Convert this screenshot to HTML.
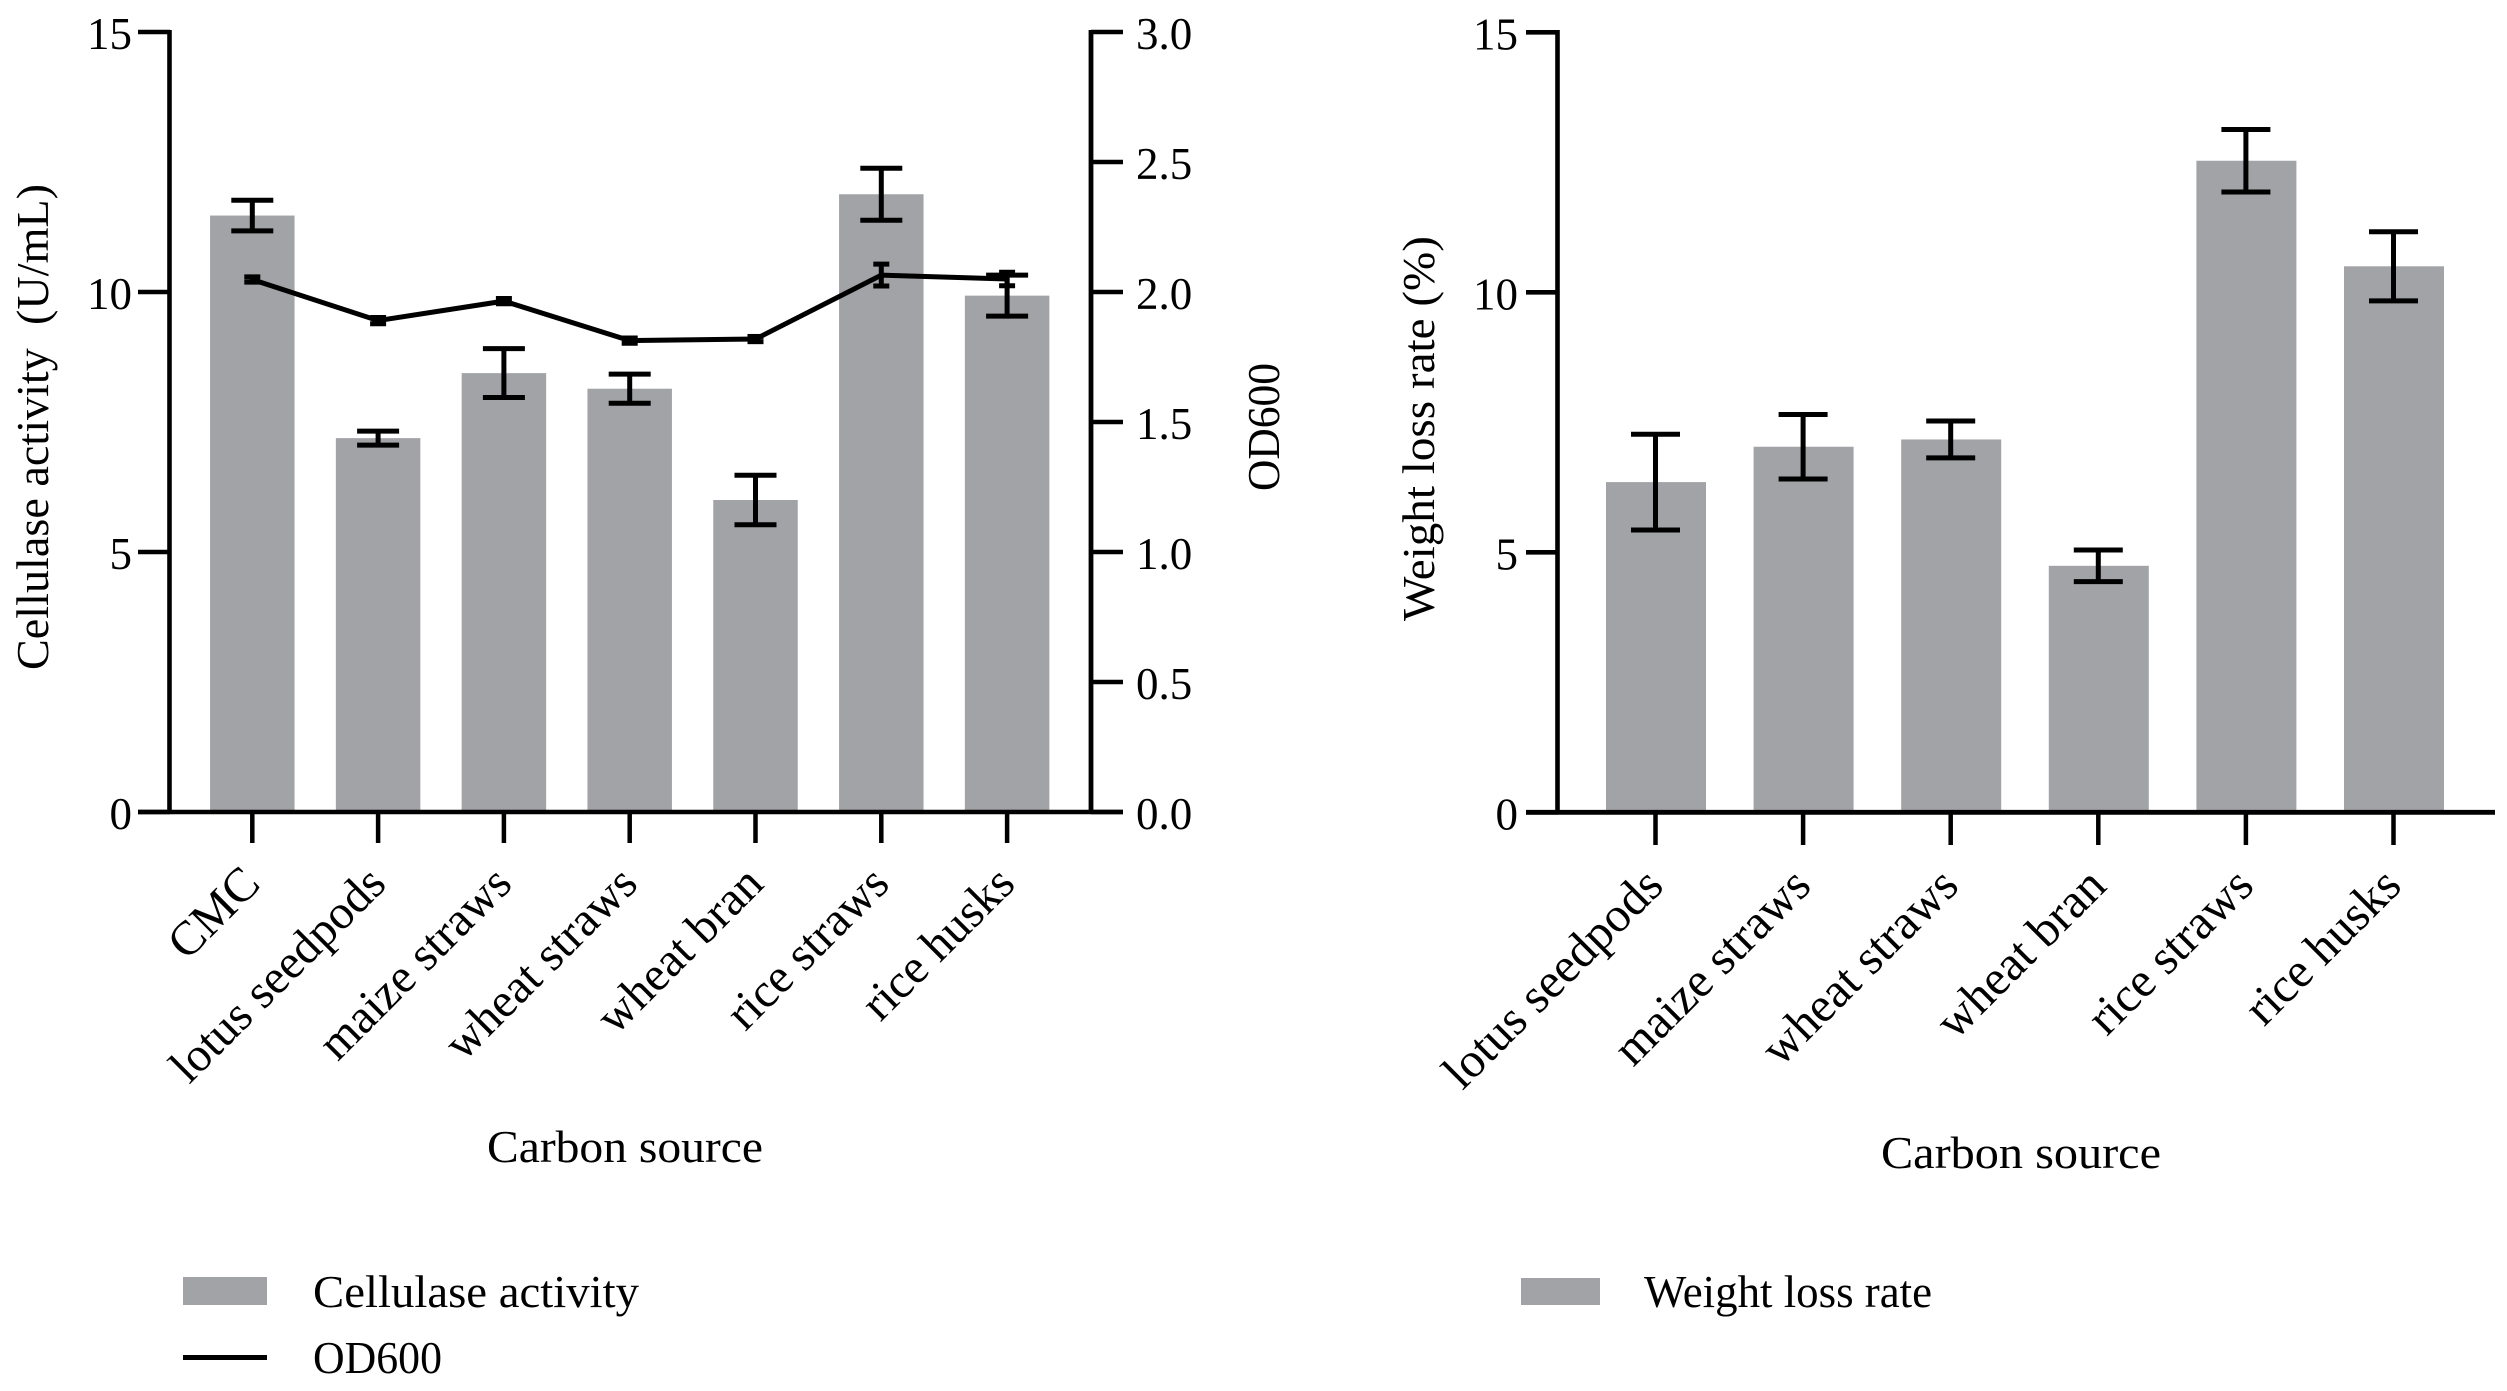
<!DOCTYPE html>
<html lang="en">
<head>
<meta charset="utf-8">
<title>Cellulase activity and weight loss rate by carbon source</title>
<style>
html,body{margin:0;padding:0;background:#fff;}
svg{display:block;}
text{font-family:"Liberation Serif","Times New Roman",serif;fill:#000;white-space:pre;}
</style>
</head>
<body>
<svg id="figure" xmlns="http://www.w3.org/2000/svg" width="2507" height="1391" viewBox="0 0 2507 1391">
  <rect x="0" y="0" width="2507" height="1391" fill="#fff"/>
  <g id="left-chart"></g>
  <g id="right-chart"></g>

  <text transform="translate(48,670) rotate(-90)" font-size="46" textLength="486" lengthAdjust="spacingAndGlyphs">Cellulase activity  (U/mL)</text>
  <text transform="translate(1279,491) rotate(-90)" font-size="46" textLength="128" lengthAdjust="spacingAndGlyphs">OD600</text>
  <text x="487" y="1162" font-size="46" textLength="276" lengthAdjust="spacingAndGlyphs">Carbon source</text>

  <rect x="183" y="1277" width="84" height="28" fill="#a2a3a7"/>
  <text x="313" y="1307" font-size="46" textLength="326" lengthAdjust="spacingAndGlyphs">Cellulase activity</text>
  <rect x="183" y="1355" width="84" height="5" fill="#000"/>
  <text x="313" y="1373" font-size="46" textLength="129" lengthAdjust="spacingAndGlyphs">OD600</text>

  <text transform="translate(1434,621) rotate(-90)" font-size="46" textLength="385" lengthAdjust="spacingAndGlyphs">Weight loss rate (%)</text>
  <text x="1881" y="1168" font-size="46" textLength="280" lengthAdjust="spacingAndGlyphs">Carbon source</text>
  <rect x="1521" y="1278" width="79" height="27" fill="#a2a3a7"/>
  <text x="1644" y="1307" font-size="46" textLength="288" lengthAdjust="spacingAndGlyphs">Weight loss rate</text>
</svg>
<script>
const cellulaseCategories = ["CMC", "lotus seedpods", "maize straws", "wheat straws", "wheat bran", "rice straws", "rice husks"];
const cellulaseValues = [11.47, 7.19, 8.44, 8.14, 6.0, 11.88, 9.93];
const cellulaseErrors = [0.295, 0.135, 0.47, 0.28, 0.475, 0.5, 0.395];
const od600Values = [2.048, 1.89, 1.965, 1.813, 1.819, 2.065, 2.05];
const od600Errors = [0.01, 0.012, 0.01, 0.01, 0.01, 0.042, 0.026];
const cellulaseTicks = [0, 5, 10, 15];
const od600Ticks = ["0.0", "0.5", "1.0", "1.5", "2.0", "2.5", "3.0"];

const weightCategories = ["lotus seedpods", "maize straws", "wheat straws", "wheat bran", "rice straws", "rice husks"];
const weightValues = [6.35, 7.03, 7.17, 4.74, 12.53, 10.5];
const weightErrors = [0.92, 0.62, 0.355, 0.305, 0.6, 0.665];
const weightTicks = [0, 5, 10, 15];

const SVG_NS = "http://www.w3.org/2000/svg";
const BAR_COLOR = "#a2a3a7";

function segment(parent, x1, y1, x2, y2, width) {
  const el = document.createElementNS(SVG_NS, "line");
  el.setAttribute("x1", x1);
  el.setAttribute("y1", y1);
  el.setAttribute("x2", x2);
  el.setAttribute("y2", y2);
  el.setAttribute("stroke", "#000");
  el.setAttribute("stroke-width", width);
  parent.appendChild(el);
  return el;
}

function label(parent, content, x, y, anchor, size, rotate) {
  const el = document.createElementNS(SVG_NS, "text");
  el.textContent = content;
  el.setAttribute("text-anchor", anchor);
  el.setAttribute("font-size", size);
  el.setAttribute("transform", "translate(" + x + "," + y + ") rotate(" + rotate + ")");
  parent.appendChild(el);
  return el;
}

function drawError(group, x, yTop, yBottom, capWidth, thickness) {
  segment(group, x, yTop, x, yBottom, thickness);
  segment(group, x - capWidth / 2, yTop, x + capWidth / 2, yTop, thickness);
  segment(group, x - capWidth / 2, yBottom, x + capWidth / 2, yBottom, thickness);
}

function drawBars(parent, categories, values, errors, xAt, yAt, barWidth, barShift, capWidth) {
  categories.forEach(function (cat, i) {
    const slug = cat.replace(/\s+/g, "-").toLowerCase();
    const bar = document.createElementNS(SVG_NS, "rect");
    bar.setAttribute("x", xAt(i) - barWidth / 2 + barShift);
    bar.setAttribute("y", yAt(values[i]));
    bar.setAttribute("width", barWidth);
    bar.setAttribute("height", yAt(0) - yAt(values[i]));
    bar.setAttribute("fill", BAR_COLOR);
    
    
    parent.appendChild(bar);
  });
  categories.forEach(function (cat, i) {
    const slug = cat.replace(/\s+/g, "-").toLowerCase();
    const group = document.createElementNS(SVG_NS, "g");
    
    
    parent.appendChild(group);
    drawError(group, xAt(i), yAt(values[i] + errors[i]), yAt(values[i] - errors[i]), capWidth, 5);
  });
}

function drawCategoryAxis(parent, categories, xAt, yBase, tickEnd, labelDx, labelY, labelSize) {
  categories.forEach(function (cat, i) {
    const slug = cat.replace(/\s+/g, "-").toLowerCase();
    const tick = segment(parent, xAt(i), yBase, xAt(i), tickEnd, 4.5);
    
    
    const text = label(parent, cat, xAt(i) + labelDx, labelY, "end", labelSize, -45);
    
    
  });
}

/* ---------- left chart ---------- */
(function () {
  const root = document.getElementById("left-chart");
  const xAt = function (i) { return 252.3 + 125.8 * i; };
  const yLeft = function (v) { return 812 - v * 780 / 15; };
  const yRight = function (v) { return 812 - v * 780 / 3; };

  drawBars(root, cellulaseCategories, cellulaseValues, cellulaseErrors, xAt, yLeft, 84.5, 0, 42);

  const line = document.createElementNS(SVG_NS, "polyline");
  line.setAttribute("points", od600Values.map(function (v, i) { return xAt(i) + "," + yRight(v); }).join(" "));
  line.setAttribute("fill", "none");
  line.setAttribute("stroke", "#000");
  line.setAttribute("stroke-width", 5);
  
  
  root.appendChild(line);

  od600Values.forEach(function (v, i) {
    const group = document.createElementNS(SVG_NS, "g");
    
    
    root.appendChild(group);
    drawError(group, xAt(i), yRight(v + od600Errors[i]), yRight(v - od600Errors[i]), 16, 5);
  });

  const leftAxis = segment(root, 169.5, 30, 169.5, 814, 4.6);
  
  

  const rightAxis = segment(root, 1091, 30, 1091, 814, 4.8);
  
  

  const xAxis = segment(root, 138, 812, 1123, 812, 4.6);
  
  

  cellulaseTicks.forEach(function (t) {
    const tick = segment(root, 138, yLeft(t), 170, yLeft(t), 4.6);
    
    
    const text = label(root, String(t), 132, yLeft(t) + 17, "end", 45, 0);
    
    
  });

  od600Ticks.forEach(function (t) {
    const v = parseFloat(t);
    const tick = segment(root, 1091, yRight(v), 1123, yRight(v), 4.6);
    
    
    const text = label(root, t, 1136, yRight(v) + 17, "start", 45, 0);
    
    
  });

  drawCategoryAxis(root, cellulaseCategories, xAt, 812, 843, 10, 886, 48);
})();

/* ---------- right chart ---------- */
(function () {
  const root = document.getElementById("right-chart");
  const xAt = function (i) { return 1655.5 + 147.6 * i; };
  const yAt = function (v) { return 812.3 - v * 780 / 15; };

  drawBars(root, weightCategories, weightValues, weightErrors, xAt, yAt, 100, 0.5, 49);

  const yAxis = segment(root, 1557.5, 30, 1557.5, 814, 4.6);
  
  

  const xAxis = segment(root, 1526, 812.3, 2495, 812.3, 4.8);
  
  

  weightTicks.forEach(function (t) {
    const tick = segment(root, 1526, yAt(t), 1558, yAt(t), 4.6);
    
    
    const text = label(root, String(t), 1518, yAt(t) + 17, "end", 45, 0);
    
    
  });

  drawCategoryAxis(root, weightCategories, xAt, 812, 845, 10, 888, 49);
})();
</script>
</body>
</html>
